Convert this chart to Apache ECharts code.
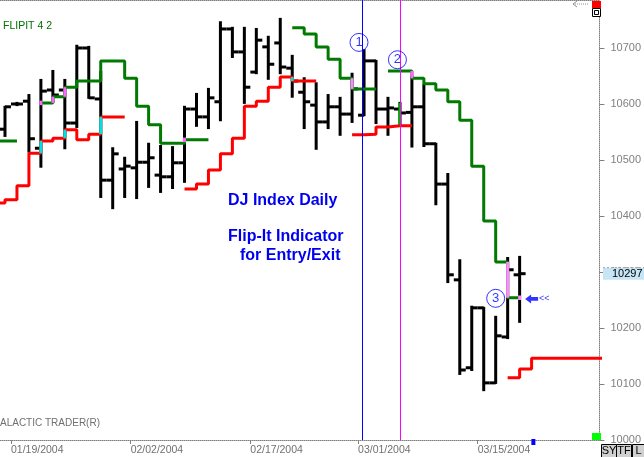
<!DOCTYPE html>
<html><head><meta charset="utf-8">
<script src="https://cdn.jsdelivr.net/npm/echarts@6/dist/echarts.min.js"></script>
<style>html,body{margin:0;padding:0;background:#fff}#c{width:644px;height:457px}</style>
</head><body><div id="c"></div>
<script>
// ---- data (index i = trading-day position; i=0 is 01/15/2004) ----
const dates = ['01/15/2004','01/16/2004','01/19/2004','01/20/2004','01/21/2004','01/22/2004','01/23/2004','01/26/2004','01/27/2004','01/28/2004','01/29/2004','01/30/2004','02/02/2004','02/03/2004','02/04/2004','02/05/2004','02/06/2004','02/09/2004','02/10/2004','02/11/2004','02/12/2004','02/13/2004','02/17/2004','02/18/2004','02/19/2004','02/20/2004','02/23/2004','02/24/2004','02/25/2004','02/26/2004','02/27/2004','03/01/2004','03/02/2004','03/03/2004','03/04/2004','03/05/2004','03/08/2004','03/09/2004','03/10/2004','03/11/2004','03/12/2004','03/15/2004','03/16/2004','03/17/2004','03/18/2004'];
const opens  = [null,10555,10600,10605,10521,10625,10625,10566,10700,10609,10464,10484,10486,10496,10473,10470,10495,10591,10577,10604,10734,10693,10657,10702,10709,10664,10621,10598,10568,10595,10582,10580,10677,10591,10591,10585,10595,10529,10457,10286,10129,10236,10102,10184,10295];
const highs  = [null,10595,10602,10616,10643,10659,10643,10704,10702,10657,10521,10504,10568,10529,10525,10523,10595,10618,10627,10746,10736,10736,10734,10720,10752,10686,10646,10637,10616,10611,10654,10696,10677,10611,10602,10648,10634,10529,10475,10321,10238,10236,10220,10325,10327];
const lows   = [null,10543,10598,10515,10488,10604,10521,10559,10611,10434,10414,10434,10432,10452,10443,10450,10461,10561,10557,10571,10684,10602,10655,10645,10655,10613,10557,10520,10557,10545,10568,10580,10566,10545,10564,10524,10525,10421,10282,10118,10125,10089,10102,10182,10211];
const closes = [null,10595,10600,10538,10623,10616,10566,10700,10611,10464,10511,10489,10496,10504,10470,10495,10591,10577,10611,10734,10693,10630,10714,10671,10666,10641,10604,10568,10595,10582,10627,10677,10591,10593,10584,10595,10529,10457,10295,10125,10236,10102,10186,10304,10297];
// Flip-It stops (green = upper, red = lower)
const upperStop = [10534,10534,null,null,10602,10613,10630,10641,10641,10677,10677,10646,10596,10563,10530,10530,10536,10536,null,null,null,null,null,null,null,10736,10725,10702,10680,10646,10627,10627,null,10659,10659,10646,10636,10625,10604,10571,10489,10391,10318,10254,10254];
const lowerStop = [10423,10429,10454,10512,10534,10539,10554,10536,10546,10577,10577,null,null,null,null,null,10448,10457,10482,10511,10539,10596,10605,10630,10648,10641,10641,null,null,null,10545,10546,10559,10561,10561,null,null,null,null,null,null,null,null,10111,10127,10146,10146,10146,10146,10146,10146,10146];
// flip markers (coloured connectors)
const flipIdx  = [4,6,9,25,4,5,6,16,30,34,35,43,44];
const flipLo   = [10512,10539,10546,10641,10598,10602,10613,10532,10627,10563,10646,10254,10250];
const flipHi   = [10534,10554,10577,10648,10606,10613,10630,10540,10646,10602,10659,10318,10258];
const flipCol  = ['#00e0e0','#00e0e0','#00e0e0','#00e0e0','#ff66ff','#ff66ff','#ff66ff','#ff66ff','#ff88ff','#00b000','#ff66ff','#ff88ff','#ff88ff'];
// circled annotations
const noteLabels = ['1','2','3'];
const noteX = [30.58, 33.79, 42.0];
const noteY = [10710, 10679, 10253];
// vertical event lines
const eventX = [30.86, 34.0];
const eventCol = ['#0000ff','#ff00ff'];
// axis ticks
const dateTickIdx = [2, 12, 22, 31, 41];
const yTicks = [10000,10100,10200,10300,10400,10500,10600,10700];
const arrowPt = [45, 10252];

const FONT = '"Liberation Sans", Arial, sans-serif';
const xMin = 7/12, xMax = 608/12;
const yMin = 10000, yMax = 10000 + 440/0.56;

const chart = echarts.init(document.getElementById('c'));

const ohlcData = [];
dates.forEach((d,i)=>{ if (opens[i]!=null) ohlcData.push([i, opens[i], highs[i], lows[i], closes[i]]); });

const toLine = arr => arr.map((v,i)=>[i, v==null ? '-' : v]);

const option = {
  animation:false,
  backgroundColor:'#ffffff',
  grid:{left:0, right:43, top:0, bottom:17},
  xAxis:[{
    type:'value', min:xMin, max:xMax, position:'bottom',
    axisLine:{show:true, onZero:false, lineStyle:{color:'#808080', type:'dotted', width:1}},
    axisTick:{show:true, customValues: dateTickIdx.map(i=>i-0.5), length:4, lineStyle:{color:'#808080'}},
    axisLabel:{show:true, customValues: dateTickIdx.map(i=>i-0.5), formatter:v=>dates[Math.round(v+0.5)]||'',
      align:'left', color:'#707070', fontSize:10.5, margin:5, fontFamily:FONT},
    splitLine:{show:false}
  },{
    type:'value', min:xMin, max:xMax, position:'top',
    axisLine:{show:true, onZero:false, lineStyle:{color:'#808080', type:'dotted', width:1}},
    axisTick:{show:false}, axisLabel:{show:false}, splitLine:{show:false}
  }],
  yAxis:{
    type:'value', position:'right', min:yMin, max:yMax,
    axisLine:{show:true, onZero:false, lineStyle:{color:'#808080', type:'dotted', width:1}},
    axisTick:{show:true, customValues:yTicks, length:5, lineStyle:{color:'#808080'}},
    axisLabel:{customValues:yTicks, formatter:v=>String(Math.round(v)), color:'#808080', fontSize:11, margin:11, fontFamily:FONT},
    splitLine:{show:false}
  },
  series:[
    {
      type:'custom', name:'OHLC', z:2,
      data: ohlcData,
      encode:{x:0, y:[1,2,3,4]},
      renderItem:(params, api)=>{
        const x = api.value(0);
        const o = api.coord([x, api.value(1)]);
        const h = api.coord([x, api.value(2)]);
        const l = api.coord([x, api.value(3)]);
        const c = api.coord([x, api.value(4)]);
        const w = api.size([1,0])[0]*0.5;
        const st = {stroke:'#000', lineWidth:3};
        return {type:'group', children:[
          {type:'line', shape:{x1:h[0], y1:h[1]-1, x2:l[0], y2:l[1]+1}, style:st},
          {type:'line', shape:{x1:o[0]-w, y1:o[1], x2:o[0], y2:o[1]}, style:st},
          {type:'line', shape:{x1:c[0], y1:c[1], x2:c[0]+w, y2:c[1]}, style:st}
        ]};
      }
    },
    {
      type:'line', name:'Upper', step:'end', z:3, showSymbol:false, connectNulls:false,
      data: toLine(upperStop), lineStyle:{color:'#007a00', width:3}, itemStyle:{color:'#007a00'}
    },
    {
      type:'line', name:'Lower', step:'end', z:3, showSymbol:false, connectNulls:false,
      data: toLine(lowerStop), lineStyle:{color:'#ff0000', width:3}, itemStyle:{color:'#ff0000'}
    },
    {
      type:'custom', name:'Flip', z:4,
      data: flipIdx.map((k,j)=>[k, flipLo[j], flipHi[j], j]),
      encode:{x:0, y:[1,2]},
      renderItem:(params, api)=>{
        const x = api.value(0);
        const a = api.coord([x, api.value(1)]);
        const b = api.coord([x, api.value(2)]);
        return {type:'line', shape:{x1:a[0], y1:a[1], x2:b[0], y2:b[1]},
          style:{stroke:flipCol[api.value(3)], lineWidth:3}};
      },
      markLine:{
        silent:true, symbol:['none','none'], label:{show:false},
        data: eventX.map((x,j)=>({xAxis:x, lineStyle:{color:eventCol[j], width:1, type:'solid'}}))
      }
    },
    {
      type:'scatter', name:'Notes', z:5,
      data: noteX.map((x,j)=>[x, noteY[j], noteLabels[j]]),
      symbol:'circle', symbolSize:18,
      itemStyle:{color:'rgba(255,255,255,0)', borderColor:'#0000ff', borderWidth:1},
      label:{show:true, position:'inside', formatter:p=>p.data[2], color:'#0000ff', fontSize:13, fontFamily:FONT}
    },
    {
      type:'scatter', name:'Arrow', z:5,
      data:[arrowPt],
      symbol:'path://M0,5 L6,0 L6,3 L13,3 L13,7 L6,7 L6,10 Z', symbolSize:[13,9],
      itemStyle:{color:'#0000ff'},
      label:{show:true, position:'right', distance:1, formatter:'<<', color:'#0000ff', fontSize:9, fontFamily:FONT}
    }
  ]
};
chart.setOption(option);

const lastClose = closes[closes.length-1];
const yLast = chart.convertToPixel({yAxisIndex:0}, lastClose);
const blueMark = chart.convertToPixel({xAxisIndex:0}, 45.15);

chart.setOption({
  graphic:[
    {type:'text', left:3, top:21, z:10, style:{text:'FLIPIT 4 2', fill:'#007000', font:'10.5px '+FONT}},
    {type:'text', left:0, top:418, z:10, style:{text:'ALACTIC TRADER(R)', fill:'#707070', font:'10px '+FONT}},
    {type:'text', left:228, top:193, z:10, style:{text:'DJ Index Daily', fill:'#0000f0', font:'bold 16px '+FONT}},
    {type:'text', left:228, top:229, z:10, style:{text:'Flip-It Indicator', fill:'#0000f0', font:'bold 16px '+FONT}},
    {type:'text', left:240, top:248, z:10, style:{text:'for Entry/Exit', fill:'#0000f0', font:'bold 16px '+FONT}},
    // current price tag
    {type:'rect', z:10, shape:{x:603, y:yLast-6, width:41, height:12}, style:{fill:'#c6e6f6', stroke:null}},
    {type:'line', z:11, shape:{x1:603, y1:yLast-6, x2:644, y2:yLast-6}, style:{stroke:'#a0a0a0', lineDash:[2,2], lineWidth:1}},
    {type:'text', z:11, x:612, y:yLast, style:{text:String(lastClose), fill:'#000', font:'11px '+FONT, verticalAlign:'middle'}},
    // top-right controls
    {type:'rect', z:10, shape:{x:592, y:1, width:9, height:7}, style:{fill:'#ff0000'}},
    {type:'rect', z:10, shape:{x:592.5, y:8.5, width:8, height:8}, style:{fill:'#fff', stroke:'#000', lineWidth:1}},
    {type:'rect', z:10, shape:{x:594.5, y:10.5, width:4, height:4}, style:{fill:'#fff', stroke:'#000', lineWidth:1}},
    {type:'polyline', z:10, shape:{points:[[577,1],[573,4],[577,7]]}, style:{stroke:'#909090', fill:null, lineWidth:1}},
    {type:'line', z:10, shape:{x1:573, y1:4, x2:588, y2:4}, style:{stroke:'#909090', lineWidth:1, lineDash:[1,1]}},
    // bottom-right controls
    {type:'rect', z:10, shape:{x:592, y:433, width:9, height:7}, style:{fill:'#00ff00'}},
    {type:'rect', z:10, shape:{x:blueMark-2, y:439, width:4, height:6}, style:{fill:'#0000ff'}},
    {type:'rect', z:12, shape:{x:601.5, y:444.5, width:15, height:13}, style:{fill:'#d0d0d0', stroke:'#000', lineWidth:1}},
    {type:'rect', z:12, shape:{x:616.5, y:444.5, width:15, height:13}, style:{fill:'#d0d0d0', stroke:'#000', lineWidth:1}},
    {type:'rect', z:12, shape:{x:632.5, y:444.5, width:12, height:13}, style:{fill:'#d0d0d0', stroke:'#000', lineWidth:1}},
    {type:'text', z:13, x:609, y:451, style:{text:'SY', fill:'#000', font:'11px '+FONT, align:'center', verticalAlign:'middle'}},
    {type:'text', z:13, x:624, y:451, style:{text:'TF', fill:'#000', font:'11px '+FONT, align:'center', verticalAlign:'middle'}},
    {type:'text', z:13, x:638.5, y:451, style:{text:'L', fill:'#000', font:'11px '+FONT, align:'center', verticalAlign:'middle'}}
  ]
});
</script>
</body></html>
